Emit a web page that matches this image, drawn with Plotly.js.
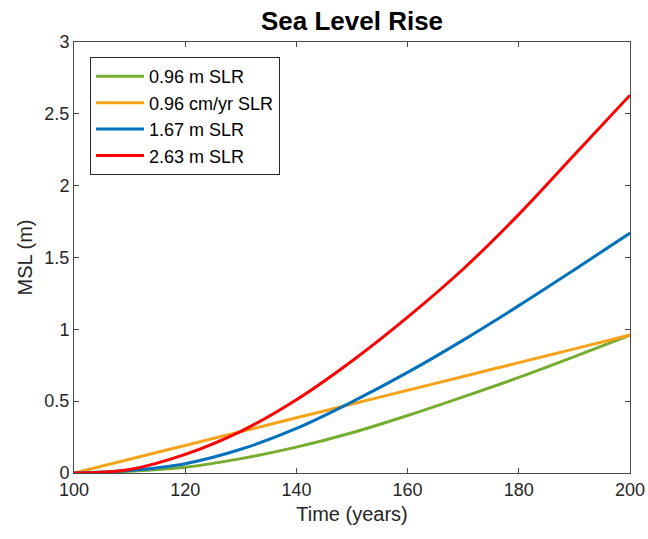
<!DOCTYPE html>
<html><head><meta charset="utf-8">
<script src="https://cdn.plot.ly/plotly-3.0.1.min.js"></script>
<style>html,body{margin:0;padding:0;background:#fff}#chart{width:648px;height:539px}</style>
</head><body><div id="chart"></div>
<script>
const years = [100,110,120,130,140,150,160,170,180,190,200];
const green096m = [0,0.012,0.04,0.10,0.18,0.28,0.40,0.53,0.665,0.81,0.96];
const orange096cm = [0,0.096,0.192,0.288,0.384,0.48,0.576,0.672,0.768,0.864,0.96];
const blue167m = [0,0.018,0.065,0.165,0.31,0.495,0.70,0.925,1.165,1.415,1.67];
const red263m = [0,0.025,0.13,0.29,0.51,0.78,1.085,1.42,1.80,2.215,2.63];
const names = ['0.96 m SLR','0.96 cm/yr SLR','1.67 m SLR','2.63 m SLR'];
const colors = ['#77AC30','#F9A31A','#0072BD','#FF0000'];
const series = [green096m, orange096cm, blue167m, red263m];
const traces = series.map((s,i)=>({x:years,y:s,name:names[i],type:'scatter',mode:'lines',
  line:{color:colors[i],width:3,shape:'spline',smoothing:1}}));
const F = 'Arial, Liberation Sans, sans-serif';
const axisCommon = {showgrid:false,zeroline:false,showline:true,linecolor:'#4a4a4a',linewidth:1,
  mirror:'ticks',ticks:'inside',ticklen:5,tickcolor:'#4a4a4a',
  tickfont:{family:F,size:18,color:'#262626'}};
const layout = {
  width:648,height:539,paper_bgcolor:'#fff',plot_bgcolor:'#fff',
  margin:{l:74,r:18,t:42,b:66},
  title:{text:'<b>Sea Level Rise</b>',x:0.5,xref:'paper',xanchor:'center',y:0.961,yanchor:'middle',
    font:{family:F,size:26,color:'#000'}},
  xaxis:Object.assign({},axisCommon,{range:[100,200],tickvals:[100,120,140,160,180,200],
    title:{text:'Time (years)',standoff:8,font:{family:F,size:20,color:'#262626'}}}),
  yaxis:Object.assign({},axisCommon,{range:[0,3],tickvals:[0,0.5,1,1.5,2,2.5,3],
    ticktext:['0','0.5','1','1.5','2','2.5','3'],
    title:{text:'MSL (m)',standoff:6,font:{family:F,size:20,color:'#262626'}}}),
  showlegend:true,
  legend:{x:0.0288,y:0.965,xanchor:'left',yanchor:'top',bgcolor:'#fff',bordercolor:'#262626',borderwidth:1,
    font:{family:F,size:18,color:'#000'},itemwidth:48,tracegroupgap:0}
};
Plotly.newPlot('chart',traces,layout,{displayModeBar:false,staticPlot:true});
</script></body></html>
